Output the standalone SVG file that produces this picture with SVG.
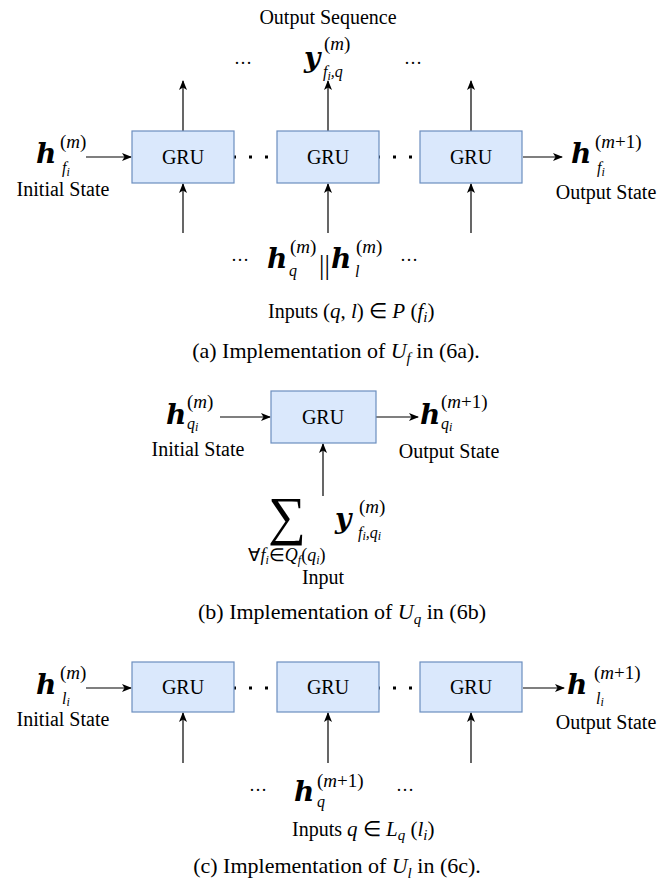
<svg xmlns="http://www.w3.org/2000/svg" width="672" height="882" viewBox="0 0 672 882">
<style>
text{font-family:"Liberation Serif","Times New Roman",serif;fill:#000}
.i{font-style:italic}
.bi{font-family:"DejaVu Serif","Liberation Serif",serif;font-style:italic;font-weight:bold;font-size:28px}
.sup{font-size:19px}
.sub{font-size:16px;font-style:italic}
.box{fill:#dae8fc;stroke:#6c8ebf;stroke-width:1.2}
.lbl{font-size:20px;text-anchor:middle}
.st{font-size:20px;text-anchor:middle}
.cap{font-size:22px;text-anchor:middle}
.ln{stroke:#000;stroke-width:1.2;fill:none}
.dot{stroke:#000;stroke-width:3;stroke-dasharray:3 13;fill:none}
</style>
<defs>
<marker id="ah" markerWidth="10" markerHeight="8" refX="9" refY="4" orient="auto" markerUnits="userSpaceOnUse">
<path d="M0,0 L10,4 L0,8 L2.5,4 z" fill="#000"/>
</marker>
</defs>
<rect width="672" height="882" fill="#fff"/>

<!-- connectors -->
<g id="connectors">
<!-- (a) -->
<line class="ln" x1="86" y1="157" x2="131" y2="157" marker-end="url(#ah)"/>
<line class="ln" x1="523" y1="157" x2="562" y2="157" marker-end="url(#ah)"/>
<line class="ln" x1="183" y1="131" x2="183" y2="81" marker-end="url(#ah)"/>
<line class="ln" x1="328" y1="131" x2="328" y2="81" marker-end="url(#ah)"/>
<line class="ln" x1="471" y1="131" x2="471" y2="81" marker-end="url(#ah)"/>
<line class="ln" x1="183" y1="233" x2="183" y2="184" marker-end="url(#ah)"/>
<line class="ln" x1="328" y1="233" x2="328" y2="184" marker-end="url(#ah)"/>
<line class="ln" x1="471" y1="233" x2="471" y2="184" marker-end="url(#ah)"/>
<line class="dot" x1="233" y1="157" x2="277" y2="157"/>
<line class="dot" x1="377" y1="157" x2="420" y2="157"/>
<!-- (b) -->
<line class="ln" x1="220" y1="417" x2="270" y2="417" marker-end="url(#ah)"/>
<line class="ln" x1="376" y1="417" x2="418" y2="417" marker-end="url(#ah)"/>
<line class="ln" x1="323" y1="496" x2="323" y2="444" marker-end="url(#ah)"/>
<!-- (c) -->
<line class="ln" x1="86" y1="688" x2="131" y2="688" marker-end="url(#ah)"/>
<line class="ln" x1="523" y1="688" x2="564" y2="688" marker-end="url(#ah)"/>
<line class="ln" x1="183" y1="763" x2="183" y2="713" marker-end="url(#ah)"/>
<line class="ln" x1="328" y1="763" x2="328" y2="713" marker-end="url(#ah)"/>
<line class="ln" x1="471" y1="763" x2="471" y2="713" marker-end="url(#ah)"/>
<line class="dot" x1="233" y1="688" x2="277" y2="688"/>
<line class="dot" x1="377" y1="688" x2="420" y2="688"/>
</g>

<!-- nodes (a) -->
<g id="gru-a1"><rect class="box" x="132" y="131" width="102" height="52"/><text class="lbl" x="183" y="164">GRU</text></g>
<g id="gru-a2"><rect class="box" x="277" y="131" width="102" height="52"/><text class="lbl" x="328" y="164">GRU</text></g>
<g id="gru-a3"><rect class="box" x="420" y="131" width="102" height="52"/><text class="lbl" x="471" y="164">GRU</text></g>
<!-- nodes (b) -->
<g id="gru-b"><rect class="box" x="271" y="391" width="105" height="52"/><text class="lbl" x="323" y="424">GRU</text></g>
<!-- nodes (c) -->
<g id="gru-c1"><rect class="box" x="132" y="662" width="102" height="50"/><text class="lbl" x="183" y="694">GRU</text></g>
<g id="gru-c2"><rect class="box" x="277" y="662" width="102" height="50"/><text class="lbl" x="328" y="694">GRU</text></g>
<g id="gru-c3"><rect class="box" x="420" y="662" width="102" height="50"/><text class="lbl" x="471" y="694">GRU</text></g>

<!-- labels (a) -->
<g id="labels-a">
<text class="st" x="328" y="24">Output Sequence</text>
<text x="243" y="64" font-size="18" text-anchor="middle">…</text>
<text x="413" y="64" font-size="18" text-anchor="middle">…</text>
<text class="bi" x="304" y="67">y</text>
<text class="sup" x="324" y="50">(<tspan class="i">m</tspan>)</text>
<text class="sub" x="323" y="77">f<tspan font-size="12" dy="3">i</tspan><tspan dy="-3">,q</tspan></text>

<text class="bi" x="36" y="163">h</text>
<text class="sup" x="60" y="148">(<tspan class="i">m</tspan>)</text>
<text class="sub" x="62" y="173">f<tspan font-size="12" dy="3">i</tspan></text>
<text class="st" x="63" y="196">Initial State</text>

<text class="bi" x="571" y="163">h</text>
<text class="sup" x="595" y="148">(<tspan class="i">m</tspan>+1)</text>
<text class="sub" x="597" y="173">f<tspan font-size="12" dy="3">i</tspan></text>
<text class="st" x="606" y="199">Output State</text>

<text x="240" y="261" font-size="18" text-anchor="middle">…</text>
<text class="bi" x="267" y="268">h</text>
<text class="sup" x="290" y="253">(<tspan class="i">m</tspan>)</text>
<text class="sub" x="289" y="276">q</text>
<text x="319" y="274" font-size="27">||</text>
<text class="bi" x="331" y="268">h</text>
<text class="sup" x="356" y="253">(<tspan class="i">m</tspan>)</text>
<text class="sub" x="355" y="277">l</text>
<text x="409" y="261" font-size="18" text-anchor="middle">…</text>

<text x="268" y="318" font-size="20">Inputs <tspan font-size="21">(<tspan class="i">q</tspan>, <tspan class="i">l</tspan>) ∈ <tspan class="i">P</tspan> (<tspan class="i">f</tspan><tspan class="i" font-size="15" dy="4">i</tspan><tspan dy="-4">)</tspan></tspan></text>
<text class="cap" x="336" y="358">(a) Implementation of <tspan class="i">U</tspan><tspan class="i" font-size="15" dy="5">f</tspan><tspan dy="-5"> in (6a).</tspan></text>
</g>

<!-- labels (b) -->
<g id="labels-b">
<text class="bi" x="166" y="424">h</text>
<text class="sup" x="187" y="408">(<tspan class="i">m</tspan>)</text>
<text class="sub" x="187" y="429">q<tspan font-size="12" dy="2">i</tspan></text>
<text class="st" x="198" y="456">Initial State</text>

<text class="bi" x="420" y="424">h</text>
<text class="sup" x="441" y="408">(<tspan class="i">m</tspan>+1)</text>
<text class="sub" x="441" y="429">q<tspan font-size="12" dy="2">i</tspan></text>
<text class="st" x="449" y="458">Output State</text>

<text x="287" y="534" font-size="53" text-anchor="middle">∑</text>
<text x="287" y="561" font-size="18" text-anchor="middle">∀<tspan class="i">f</tspan><tspan class="i" font-size="12" dy="3">i</tspan><tspan dy="-3">∈</tspan><tspan class="i">Q</tspan><tspan class="i" font-size="12" dy="3">f</tspan><tspan dy="-3">(</tspan><tspan class="i">q</tspan><tspan class="i" font-size="12" dy="3">i</tspan><tspan dy="-3">)</tspan></text>
<text class="bi" x="335" y="528">y</text>
<text class="sup" x="359" y="513">(<tspan class="i">m</tspan>)</text>
<text class="sub" x="358" y="538">f<tspan font-size="12" dy="2">i</tspan><tspan dy="-2">,q</tspan><tspan font-size="12" dy="2">i</tspan></text>
<text class="st" x="323" y="584">Input</text>

<text class="cap" x="342" y="619">(b) Implementation of <tspan class="i">U</tspan><tspan class="i" font-size="15" dy="5">q</tspan><tspan dy="-5"> in (6b)</tspan></text>
</g>

<!-- labels (c) -->
<g id="labels-c">
<text class="bi" x="36" y="694">h</text>
<text class="sup" x="60" y="679">(<tspan class="i">m</tspan>)</text>
<text class="sub" x="62" y="704">l<tspan font-size="12" dy="2">i</tspan></text>
<text class="st" x="63" y="726">Initial State</text>

<text class="bi" x="567" y="694">h</text>
<text class="sup" x="594" y="679">(<tspan class="i">m</tspan>+1)</text>
<text class="sub" x="596" y="704">l<tspan font-size="12" dy="2">i</tspan></text>
<text class="st" x="606" y="729">Output State</text>

<text x="258" y="791" font-size="18" text-anchor="middle">…</text>
<text class="bi" x="294" y="801">h</text>
<text class="sup" x="317" y="787">(<tspan class="i">m</tspan>+1)</text>
<text class="sub" x="317" y="807">q</text>
<text x="405" y="791" font-size="18" text-anchor="middle">…</text>

<text x="292" y="836" font-size="20">Inputs <tspan font-size="21"> <tspan class="i">q</tspan> ∈ <tspan class="i">L</tspan><tspan class="i" font-size="15" dy="4">q</tspan><tspan dy="-4"> (</tspan><tspan class="i">l</tspan><tspan class="i" font-size="15" dy="4">i</tspan><tspan dy="-4">)</tspan></tspan></text>
<text class="cap" x="337" y="873">(c) Implementation of <tspan class="i">U</tspan><tspan class="i" font-size="15" dy="5">l</tspan><tspan dy="-5"> in (6c).</tspan></text>
</g>
</svg>
